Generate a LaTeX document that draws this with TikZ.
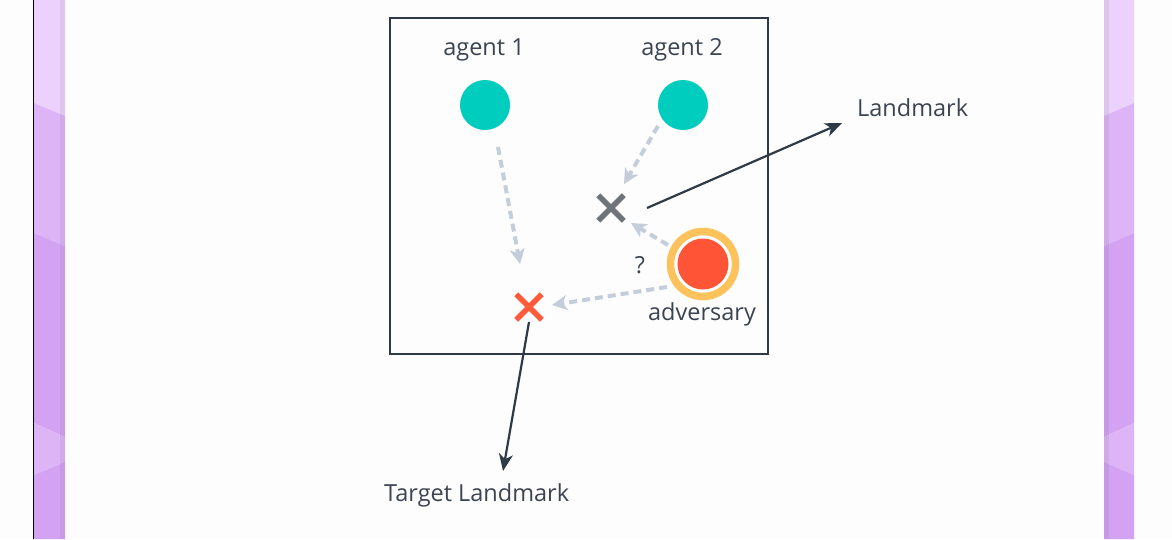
\documentclass[tikz,border=0pt]{standalone}
\usepackage{fontspec}
\setmainfont{Open Sans}
\usetikzlibrary{arrows.meta,shapes.misc}
\definecolor{bgw}{HTML}{FDFDFD}
\definecolor{pA}{HTML}{EBD1FB}
\definecolor{pB}{HTML}{DDB5F6}
\definecolor{pC}{HTML}{D4A2F3}
\definecolor{ink}{HTML}{2E3A46}
\definecolor{txt}{HTML}{3B4450}
\definecolor{teal}{HTML}{00CDBD}
\definecolor{dgrey}{HTML}{6E7479}
\definecolor{redx}{HTML}{FF5A3A}
\definecolor{advred}{HTML}{FF5436}
\definecolor{advyel}{HTML}{FDC25C}
\definecolor{dash}{HTML}{C3CEDA}
\tikzset{
  lbl/.style={text=txt,font=\fontsize{23.5}{28}\selectfont,inner sep=0pt},
  agentdot/.style={circle,fill=teal,minimum size=50pt,inner sep=0pt},
  xmark/.style={cross out,draw=#1,line width=5.5pt,minimum size=20pt,inner sep=0pt},
  guess/.style={draw=dash,line width=4pt,dash pattern=on 8pt off 5pt,
    -{Stealth[length=15pt,width=15pt,inset=4pt]}},
  pointer/.style={draw=ink,line width=2.2pt,-{Stealth[length=17pt,width=14pt,inset=5pt]}}
}
\begin{document}
\begin{tikzpicture}[x=1pt,y=-1pt]
\useasboundingbox (0,0) rectangle (1172,539);
\fill[bgw] (0,0) rectangle (1172,539);
% left strip
\fill[pA] (34,0) -- (65,0) -- (65,116) -- (34,103) -- cycle;
\fill[pB] (34,103) -- (65,116) -- (65,246) -- (34,233) -- cycle;
\fill[pC] (34,233) -- (65,246) -- (65,437) -- (34,423) -- cycle;
\fill[pB] (34,423) -- (65,437) -- (65,462) -- (34,475) -- cycle;
\fill[pC] (34,475) -- (65,462) -- (65,539) -- (34,539) -- cycle;
\fill[black,opacity=0.05] (60,0) rectangle (65,539);
\draw[black,line width=1.5pt] (33.5,0) -- (33.5,539);
% right strip
\fill[pA] (1104,0) -- (1134,0) -- (1134,103) -- (1104,116) -- cycle;
\fill[pB] (1104,116) -- (1134,103) -- (1134,233) -- (1104,246) -- cycle;
\fill[pC] (1104,246) -- (1134,233) -- (1134,423) -- (1104,437) -- cycle;
\fill[pB] (1104,437) -- (1134,423) -- (1134,475) -- (1104,462) -- cycle;
\fill[pC] (1104,462) -- (1134,475) -- (1134,539) -- (1104,539) -- cycle;
\fill[black,opacity=0.06] (1104,0) rectangle (1109,539);
% box
\node[draw=ink,line width=2pt,minimum width=378pt,minimum height=336pt,inner sep=0pt] (arena) at (579,186) {};
% labels
\node[lbl] (t1) at (484,50) {agent 1};
\node[lbl] (t2) at (682,50) {agent 2};
\node[lbl,anchor=west] (tl) at (857,108) {Landmark};
\node[lbl,anchor=west] (ttl) at (384,495) {Target Landmark};
\node[lbl] (tadv) at (702,314) {adversary};
\node[lbl] (tq) at (640,265) {?};
% agents
\node[agentdot] (a1) at (485,105) {};
\node[agentdot] (a2) at (683,105) {};
% adversary
\node[circle,draw=advyel,line width=7.5pt,fill=white,minimum size=65pt,inner sep=0pt] (advring) at (703,264) {};
\node[circle,fill=advred,minimum size=51pt,inner sep=0pt] (adv) at (703,264) {};
% landmarks
\node[xmark=dgrey] (lm) at (611,208) {};
\node[xmark=redx] (tlm) at (529,307) {};
% guess arrows
\coordinate (g1s) at (498,147);
\coordinate (g1e) at (520,264);
\coordinate (g2s) at (658,126);
\coordinate (g2e) at (624,184);
\coordinate (g3s) at (668,245);
\coordinate (g3e) at (631,223);
\coordinate (g4s) at (667,287);
\coordinate (g4e) at (552,305);
\draw[guess] (g1s) -- (g1e);
\draw[guess] (g2s) -- (g2e);
\draw[guess] (g3s) -- (g3e);
\draw[guess] (g4s) -- (g4e);
% pointer arrows
\coordinate (p1s) at (647,208);
\coordinate (p1e) at (842,123);
\coordinate (p2s) at (529,322);
\coordinate (p2e) at (503,471);
\draw[pointer] (p1s) -- (p1e);
\draw[pointer] (p2s) -- (p2e);
\end{tikzpicture}
\end{document}
